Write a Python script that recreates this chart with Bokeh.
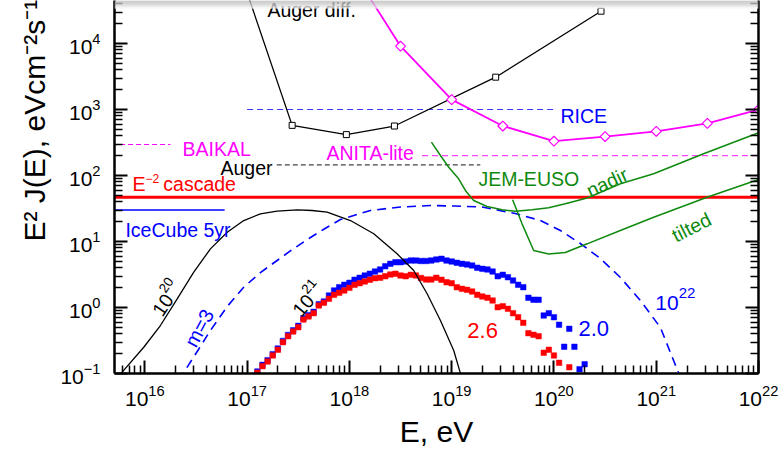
import math
from bokeh.plotting import figure
from bokeh.models import Range1d, LogAxis, FixedTicker, Label, BoxAnnotation, Title
from bokeh.embed import file_html
from bokeh.resources import INLINE

# ---------------- data (log10 values) ----------------
x_tick_exps = [16, 17, 18, 19, 20, 21, 22]
y_tick_exps = [-1, 0, 1, 2, 3, 4]

# Auger differential limit (open squares)
auger_diff_lgE = [17.00, 17.44, 17.97, 18.44, 19.43, 20.46]
auger_diff_lgF = [4.77, 2.76, 2.62, 2.75, 3.49, 4.49]

# ANITA-lite (open diamonds)
anita_lgE = [18.0, 18.5, 19.0, 19.5, 20.0, 20.5, 21.0, 21.5, 22.0]
anita_lgF = [5.18, 3.96, 3.15, 2.75, 2.52, 2.59, 2.67, 2.79, 3.00]

# flat limits: energy span (log10) and level
rice_lgE = [17.0, 20.0];     rice_F = 1000
baikal_lgE = [15.6, 16.25];  baikal_F = 295
auger_lgE = [17.29, 19.28];  auger_F = 145
anita2_lgE = [18.71, 22.0];  anita2_F = 200
cascade_lgE = [15.5, 22.5];  cascade_F = 47
icecube_lgE = [15.6, 16.78]; icecube_F = 30

# cosmogenic flux, E_max = 1e20 (black solid)
c20_lgE = [15.65, 15.778, 15.989, 16.152, 16.316, 16.478, 16.641, 16.805, 16.967, 17.130, 17.293,
           17.489, 17.635, 17.782, 18.010, 18.238, 18.466, 18.629, 18.760, 18.890, 19.020, 19.085, 19.12]
c20_lgF = [-1.21, -0.980, -0.602, -0.273, 0.132, 0.535, 0.889, 1.141, 1.318, 1.420, 1.459,
           1.480, 1.470, 1.444, 1.318, 1.117, 0.814, 0.561, 0.208, -0.197, -0.652, -0.995, -1.18]

# cosmogenic flux, m=3, E_max = 1e22 (blue dashed)
c22_lgE = [16.33, 16.380, 16.524, 16.641, 16.805, 16.964, 17.130, 17.293, 17.456, 17.619, 17.746, 17.912,
           18.205, 18.499, 18.792, 19.036, 19.297, 19.623, 19.868, 20.063, 20.258, 20.454, 20.650,
           20.845, 21.041, 21.219, 21.26]
c22_lgF = [-1.10, -0.985, -0.636, -0.348, 0.015, 0.303, 0.530, 0.712, 0.894, 1.061, 1.182, 1.333,
           1.470, 1.523, 1.545, 1.538, 1.523, 1.424, 1.318, 1.167, 0.970, 0.742, 0.455,
           0.106, -0.303, -0.995, -1.20]

# JEM-EUSO nadir / tilted
nadir_lgE = [18.802, 18.890, 18.971, 19.068, 19.134, 19.215, 19.346, 19.493, 19.623, 19.786, 19.948,
             20.111, 20.324, 20.649, 20.975, 21.463, 22.001]
nadir_lgF = [2.505, 2.303, 2.126, 1.950, 1.773, 1.621, 1.530, 1.480, 1.459, 1.480, 1.511,
             1.571, 1.659, 1.874, 2.026, 2.329, 2.647]
tilted_lgE = [19.596, 19.688, 19.802, 19.948, 20.111, 20.324, 20.649, 20.975, 21.497, 22.001]
tilted_lgF = [1.632, 1.268, 0.864, 0.811, 0.833, 0.965, 1.167, 1.368, 1.671, 1.939]

# cosmogenic neutrinos, injection index 2.6 (red squares)
s26_lgE = [17.10, 17.15, 17.20, 17.25, 17.30, 17.35, 17.40, 17.45, 17.50, 17.55, 17.60, 17.65,
           17.70, 17.75, 17.80, 17.85, 17.90, 17.95, 18.00, 18.05, 18.10, 18.15, 18.20, 18.25,
           18.30, 18.35, 18.40, 18.45, 18.50, 18.55, 18.60, 18.65, 18.70, 18.75, 18.80, 18.85,
           18.90, 18.95, 19.00, 19.05, 19.10, 19.15, 19.20, 19.25, 19.30, 19.35, 19.40, 19.45,
           19.50, 19.55, 19.60, 19.65, 19.70, 19.75, 19.80, 19.85, 19.90, 19.95, 20.00, 20.05, 20.15]
s26_lgF = [-0.989, -0.889, -0.818, -0.727, -0.641, -0.526, -0.435, -0.364, -0.298, -0.182, -0.136, -0.086,
           0.030, 0.071, 0.132, 0.192, 0.223, 0.258, 0.298, 0.344, 0.368, 0.394, 0.420, 0.444,
           0.450, 0.474, 0.500, 0.511, 0.485, 0.474, 0.495, 0.485, 0.447, 0.424, 0.424, 0.450,
           0.420, 0.383, 0.368, 0.308, 0.283, 0.268, 0.242, 0.192, 0.167, 0.147, 0.106, 0.005,
           0.020, -0.020, -0.086, -0.147, -0.232, -0.389, -0.414, -0.435, -0.686, -0.641, -0.727, -0.838, -0.905]

# cosmogenic neutrinos, injection index 2.0 (blue squares)
s20_lgE = [17.10, 17.15, 17.20, 17.25, 17.30, 17.35, 17.40, 17.45, 17.50, 17.55, 17.60, 17.65,
           17.70, 17.75, 17.80, 17.85, 17.90, 17.95, 18.00, 18.05, 18.10, 18.15, 18.20, 18.25,
           18.30, 18.35, 18.40, 18.45, 18.50, 18.55, 18.60, 18.65, 18.70, 18.75, 18.80, 18.85,
           18.90, 18.95, 19.00, 19.05, 19.10, 19.15, 19.20, 19.25, 19.30, 19.35, 19.40, 19.45,
           19.50, 19.55, 19.60, 19.65, 19.70, 19.75, 19.80, 19.85, 19.90, 19.95, 20.00, 20.05,
           20.10, 20.15, 20.20, 20.25, 20.30]
s20_lgF = [-0.969, -0.869, -0.798, -0.707, -0.621, -0.506, -0.415, -0.344, -0.278, -0.162, -0.116, -0.066,
           0.050, 0.091, 0.182, 0.258, 0.308, 0.344, 0.374, 0.420, 0.450, 0.485, 0.511, 0.545,
           0.576, 0.626, 0.662, 0.686, 0.686, 0.697, 0.712, 0.712, 0.705, 0.705, 0.712, 0.727,
           0.738, 0.712, 0.697, 0.677, 0.662, 0.652, 0.636, 0.602, 0.586, 0.576, 0.545, 0.474,
           0.495, 0.459, 0.409, 0.344, 0.308, 0.148, 0.118, 0.117, -0.121, -0.086, -0.147, -0.261,
           -0.595, -0.323, -0.595, -0.935, -0.859]

x_title = "E, eV"
y_title = "E\u00b2 J(E), eVcm\u207b\u00b2s\u207b\u00b9sr\u207b\u00b9"

# ---------------- layout ----------------
W, H = 782, 465
FL, FR, FT, FB = 114, 758, 0, 373
FONT = "Liberation Sans"
RED, BLUE, MAG, GREEN = "#ff0000", "#0000ff", "#ff00ff", "#0f8a0f"


def P(v):
    return [10.0 ** a for a in v]


def D(a):
    return 10.0 ** a


p = figure(width=W, height=H, x_axis_type="log", y_axis_type="log",
           x_range=Range1d(10 ** 15.703, 1e22), y_range=Range1d(1e-1, 10 ** 4.652),
           output_backend="svg", toolbar_location=None,
           min_border_left=FL, min_border_right=W - FR, min_border_top=FT,
           min_border_bottom=H - FB)
p.outline_line_color = None
p.grid.visible = False
p.background_fill_color = "white"
p.border_fill_color = "white"

xminor = [m * 10.0 ** e for e in range(15, 22) for m in range(2, 10)]
yminor = [m * 10.0 ** e for e in range(-2, 5) for m in range(2, 10)]
p.xaxis.ticker = FixedTicker(ticks=P(x_tick_exps), minor_ticks=xminor)
p.yaxis.ticker = FixedTicker(ticks=P(y_tick_exps), minor_ticks=yminor)
rax = LogAxis(ticker=FixedTicker(ticks=P(y_tick_exps), minor_ticks=yminor))
p.add_layout(rax, "right")
for ax in [p.xaxis[0], p.yaxis[0], rax]:
    ax.axis_line_width = 2.5
    ax.axis_line_color = "black"
    ax.major_tick_in = 13
    ax.major_tick_out = 0
    ax.minor_tick_in = 8
    ax.minor_tick_out = 0
    ax.major_tick_line_width = 2
    ax.minor_tick_line_width = 1.5
    ax.major_label_text_font = FONT
    ax.major_label_text_font_size = "21px"
    ax.major_label_text_color = "black"
rax.major_label_text_font_size = "2px"
rax.major_label_text_alpha = 0.0
rax.major_label_standoff = 0
p.yaxis[0].major_label_standoff = 14
p.xaxis[0].major_label_standoff = 11

p.xaxis[0].axis_label = x_title
p.xaxis[0].axis_label_text_font = FONT
p.xaxis[0].axis_label_text_font_size = "30px"
p.xaxis[0].axis_label_text_font_style = "normal"
p.xaxis[0].axis_label_text_color = "black"
p.xaxis[0].axis_label_standoff = 6

p.add_layout(Title(text=y_title, align="left", offset=132, text_font=FONT,
                   text_font_size="30px", text_font_style="normal", text_color="black",
                   standoff=14), "left")

# ---------------- glyphs ----------------
p.line(P(cascade_lgE), [cascade_F] * 2, line_color=RED, line_width=3)
p.line(P(icecube_lgE), [icecube_F] * 2, line_color=BLUE, line_width=1.5)
p.line(P(baikal_lgE), [baikal_F] * 2, line_color=MAG, line_width=1.2, line_dash="5 3")
p.line(P(auger_lgE), [auger_F] * 2, line_color="#444444", line_width=1.2, line_dash="5 3")
p.line(P(rice_lgE), [rice_F] * 2, line_color="#3838ff", line_width=1.2, line_dash="6 4")
p.line(P(anita2_lgE), [anita2_F] * 2, line_color="#ff44ff", line_width=1.2, line_dash="6 4")

p.scatter(P(s20_lgE), P(s20_lgF), marker="square", size=5.5, fill_color=BLUE, line_color=BLUE, line_width=0.5)
p.scatter(P(s26_lgE), P(s26_lgF), marker="square", size=5.5, fill_color=RED, line_color=RED, line_width=0.5)

p.line(P(c20_lgE), P(c20_lgF), line_color="black", line_width=1.3)
p.line(P(c22_lgE), P(c22_lgF), line_color=BLUE, line_width=1.6, line_dash="9 6")
p.line(P(nadir_lgE), P(nadir_lgF), line_color=GREEN, line_width=1.5)
p.line(P(tilted_lgE), P(tilted_lgF), line_color=GREEN, line_width=1.5)

p.line(P(auger_diff_lgE), P(auger_diff_lgF), line_color="black", line_width=1.3)
p.scatter(P(auger_diff_lgE), P(auger_diff_lgF), marker="square", size=6,
          fill_color="white", line_color="black", line_width=1)
p.line(P(anita_lgE), P(anita_lgF), line_color=MAG, line_width=1.8)
p.scatter(P(anita_lgE), P(anita_lgF), marker="square", angle=math.pi / 4, size=7,
          fill_color="white", line_color=MAG, line_width=1.2)

# ---------------- text inside the frame ----------------
EM = {'E': .667, ' ': .278, '\u2212': .584, '-': .333, '.': .278, '=': .584}


def tw(t, size):
    return sum(EM.get(ch, .556) for ch in t) * size


def lab(text, x, y, color, size, angle=0.0, align="left", xo=0.0, yo=0.0):
    p.add_layout(Label(x=x, y=y, x_offset=xo, y_offset=yo,
                       text=text, text_color=color, text_font=FONT,
                       text_font_size=f"{size}px", angle=angle, text_align=align,
                       text_baseline="alphabetic"))


def rich(pieces, x, y, color, size, sup_size, rise, angle=0.0):
    ca, sa = math.cos(angle), math.sin(angle)
    adv = 0.0
    for txt, sup in pieces:
        fs = sup_size if sup else size
        r = rise if sup else 0.0
        lab(txt, x, y, color, fs, angle=angle, xo=adv * ca - r * sa, yo=adv * sa + r * ca)
        adv += tw(txt, fs)


lab("Auger diff.", D(17.198), D(4.515), "black", 19.5)
lab("RICE", D(20.063), D(2.909), BLUE, 19.5)
lab("BAIKAL", D(16.368), D(2.409), MAG, 19.5)
lab("ANITA-lite", D(17.775), D(2.348), MAG, 19.5)
lab("Auger", D(16.739), D(2.121), "black", 19.5)
rich([("E", False), ("\u22122", True)], D(15.879), D(1.864), RED, 19.5, 12, 6)
lab("cascade", D(16.180), D(1.864), RED, 19.5)
lab("IceCube 5yr", D(15.810), D(1.182), BLUE, 19.5)
lab("JEM-EUSO", D(19.261), D(1.947), GREEN, 19.5)
lab("nadir", D(20.327), D(1.758), GREEN, 19.5, angle=0.44)
lab("tilted", D(21.164), D(1.076), GREEN, 19.5, angle=0.47)
rich([("10", False), ("20", True)], D(16.115), D(-0.095), "black", 19.5, 13.5, 8, angle=0.98)
rich([("10", False), ("21", True)], D(17.480), D(-0.091), "black", 19.5, 13.5, 8, angle=0.87)
lab("m=3", D(16.44), D(-0.575), BLUE, 20, angle=1.08)
rich([("10", False), ("22", True)], D(20.991), D(0.061), BLUE, 21, 15, 10)
lab("2.6", D(19.153), D(-0.348), RED, 22)
lab("2.0", D(20.239), D(-0.318), BLUE, 22)

# slide header shadow
shade = ["#b9b9b9", "#bdbdbd", "#c3c3c3", "#cacaca", "#d3d3d3", "#dedede", "#eaeaea", "#f5f5f5"]
for i, c in enumerate(shade):
    p.add_layout(BoxAnnotation(top=D(4.652 - i / 66), bottom=D(4.652 - (i + 1) / 66),
                               fill_color=c, fill_alpha=1.0, line_color=None))

open("out.html", "w").write(file_html(p, INLINE))
